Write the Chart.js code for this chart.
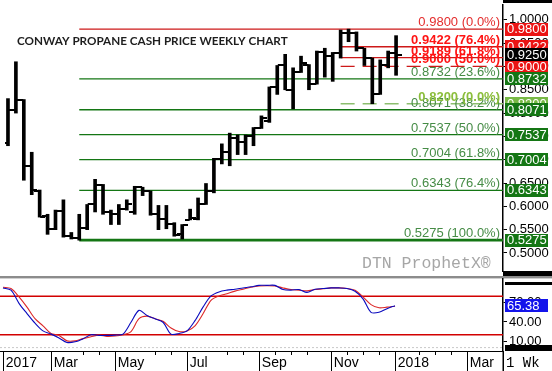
<!DOCTYPE html>
<html>
<head>
<meta charset="utf-8">
<script src="https://cdn.jsdelivr.net/npm/chart.js@4.4.1/dist/chart.umd.min.js"></script>
<style>
  html, body { margin: 0; padding: 0; background: #fff; }
  #wrap { position: relative; width: 552px; height: 371px; overflow: hidden; }
  #cPrice { position: absolute; left: 0; top: 0; }
  #cStoch { position: absolute; left: 0; top: 276px; }
</style>
</head>
<body>
<div id="wrap">
  <canvas id="cPrice" width="552" height="276"></canvas>
  <canvas id="cStoch" width="552" height="95"></canvas>
</div>
<script>
// weekly bars, week starting Monday
const weeks = ['2017-01-23','2017-01-30','2017-02-06','2017-02-13','2017-02-20','2017-02-27',
  '2017-03-06','2017-03-13','2017-03-20','2017-03-27','2017-04-03','2017-04-10','2017-04-17','2017-04-24',
  '2017-05-01','2017-05-08','2017-05-15','2017-05-22','2017-05-29','2017-06-05','2017-06-12','2017-06-19','2017-06-26',
  '2017-07-03','2017-07-10','2017-07-17','2017-07-24','2017-07-31','2017-08-07','2017-08-14','2017-08-21','2017-08-28',
  '2017-09-04','2017-09-11','2017-09-18','2017-09-25','2017-10-02','2017-10-09','2017-10-16','2017-10-23','2017-10-30',
  '2017-11-06','2017-11-13','2017-11-20','2017-11-27','2017-12-04','2017-12-11','2017-12-18','2017-12-25','2018-01-01'];

const priceOpen = [0.735,0.806,0.829,0.687,0.633,0.579,0.552,0.590,0.536,0.532,0.554,0.604,0.645,0.588,0.583,0.594,0.588,
  0.641,0.633,0.583,0.573,0.563,0.540,0.571,0.573,0.604,0.633,0.701,0.716,0.747,0.738,0.751,0.767,0.784,0.856,0.902,0.850,
  0.889,0.904,0.862,0.930,0.922,0.928,0.972,0.972,0.939,0.918,0.840,0.902,0.928];
const priceHigh = [0.831,0.910,0.829,0.716,0.635,0.583,0.592,0.614,0.544,0.583,0.604,0.658,0.647,0.592,0.604,0.614,0.643,
  0.641,0.633,0.602,0.602,0.565,0.561,0.594,0.618,0.649,0.703,0.734,0.757,0.753,0.753,0.769,0.794,0.856,0.902,0.926,0.897,
  0.922,0.904,0.933,0.939,0.930,0.978,0.980,0.974,0.939,0.918,0.914,0.933,0.966];
const priceLow = [0.730,0.800,0.656,0.625,0.577,0.540,0.550,0.534,0.530,0.5275,0.550,0.588,0.583,0.561,0.561,0.592,0.583,
  0.623,0.581,0.550,0.552,0.536,0.530,0.571,0.571,0.604,0.629,0.691,0.687,0.711,0.711,0.730,0.767,0.780,0.840,0.850,0.809,
  0.887,0.850,0.862,0.877,0.868,0.918,0.953,0.933,0.902,0.820,0.840,0.897,0.881];
const priceClose = [0.806,0.829,0.687,0.635,0.578,0.552,0.590,0.536,0.532,0.554,0.604,0.645,0.588,0.583,0.594,0.604,0.641,
  0.633,0.583,0.573,0.563,0.538,0.559,0.575,0.604,0.633,0.701,0.716,0.747,0.738,0.751,0.769,0.790,0.856,0.902,0.850,0.889,
  0.908,0.862,0.930,0.922,0.928,0.972,0.972,0.939,0.918,0.840,0.902,0.928,0.925];

const stochK = [93,89.5,69,53,38,26,21,15,8,9,13.7,20,19,19,19.5,21,39.4,58,50,44.8,39.5,21,22,26,42,63,80.5,86.8,89.5,91,
  93,94.7,97,97,97,90.5,89.5,90.5,86,91,92,93,93,92,87.8,76,55,55,60.6,65.38];
const stochD = [94,92,79,63,45,34,22,19,10.5,10.5,14,17,19.5,17.5,18,20,25,45,49,45,41,30.5,25,26,34,52.7,73.7,80.5,84,88,
  91,94,96,96.5,96,93,90.5,89.5,88.4,90.5,91.6,93,93,92,89.5,79,67,62,63,64.5];

// retracement 0.9800 high -> 0.5275 low
const mainFibLevels = [0.98, 0.8732, 0.8071, 0.7537, 0.7004, 0.6343, 0.5275];
const mainFibPct = [0.0, 23.6, 38.2, 50.0, 61.8, 76.4, 100.0];
// retracement 0.8200 low -> 0.9800 high
const subFibLevels = [0.9422, 0.9189, 0.9000, 0.8200];
const subFibPct = [76.4, 61.8, 50.0, 0.0];
const mainFibFromWeek = 9;
const subFibFromWeek = 42;

const priceTicks = [0.50,0.55,0.60,0.65,0.70,0.75,0.80,0.85,0.90,0.95,1.00];
const stochTicks = [10, 40, 70];
const stochBands = [20, 80];
const monthTickWeeks = [0, 6, 14, 23, 32, 41, 49, 58];
const monthLabels = ['2017','Mar','May','Jul','Sep','Nov','2018','Mar'];
const minorTickWeeks = [10, 12, 19, 21, 28, 30, 34, 36, 38, 43, 45, 47, 52, 54, 56];

const FONT = "'Liberation Sans Narrow','Arial Narrow','Liberation Sans',Arial,sans-serif";
const RED = 'rgb(205,25,25)';
const RED_TXT = 'rgb(228,45,45)';
const RED_BOLD = 'rgb(255,20,20)';
const GREEN = 'rgb(20,118,20)';
const GREEN_TXT = 'rgb(70,140,70)';
const LIGHT_GREEN = 'rgb(140,190,110)';
const LIGHT_GREEN_TXT = 'rgb(140,190,60)';
const xMin = -0.375, xMax = 62.5;

function tickImg(side) {
  const c = document.createElement('canvas');
  c.width = 11; c.height = 2;
  const g = c.getContext('2d');
  g.fillStyle = '#000';
  g.fillRect(side === 'left' ? 0 : 6, 0, 5, 2);
  return c;
}

function fibLine(v, from, color, width, dash) {
  return {
    type: 'line', data: [{x: from, y: v}, {x: xMax, y: v}],
    borderColor: color, borderWidth: width, borderDash: dash || [],
    pointRadius: 0, order: 3
  };
}

const fibSets = [];
mainFibLevels.forEach((v, i) => {
  const p = mainFibPct[i];
  fibSets.push(fibLine(v, mainFibFromWeek, p === 0 ? RED : GREEN, p === 100 ? 2.6 : 1.3));
});
subFibLevels.forEach((v, i) => {
  const p = subFibPct[i];
  if (p === 0) fibSets.push(fibLine(v, subFibFromWeek, LIGHT_GREEN, 1.3, [14, 8]));
  else fibSets.push(fibLine(v, subFibFromWeek, RED, 1.3, p === 50 ? [14, 8] : []));
});

function box(ctx, y, color, text) {
  ctx.fillStyle = color;
  ctx.fillRect(505, Math.round(y - 6.5), 43, 13);
  ctx.fillStyle = '#fff';
  ctx.font = '13px ' + FONT;
  ctx.textAlign = 'left';
  ctx.textBaseline = 'middle';
  ctx.fillText(text, 507, y + 0.5);
}

const pricePlugin = {
  id: 'priceExtras',
  afterDraw(chart) {
    const ctx = chart.ctx, y = chart.scales.y;
    ctx.save();
    // fib labels
    ctx.textAlign = 'right';
    ctx.textBaseline = 'alphabetic';
    mainFibLevels.forEach((v, i) => {
      const p = mainFibPct[i];
      ctx.font = '13px ' + FONT;
      ctx.fillStyle = p === 0 ? RED_TXT : GREEN_TXT;
      ctx.fillText(v.toFixed(4) + ' (' + p.toFixed(1) + '%)', 500, y.getPixelForValue(v) - 3);
    });
    subFibLevels.forEach((v, i) => {
      const p = subFibPct[i];
      ctx.font = 'bold 13px ' + FONT;
      ctx.fillStyle = p === 0 ? LIGHT_GREEN_TXT : RED_BOLD;
      ctx.fillText(v.toFixed(4) + ' (' + p.toFixed(1) + '%)', 500, y.getPixelForValue(v) - 3);
    });
    // title and watermark
    ctx.textAlign = 'left';
    ctx.fillStyle = '#1e1e1e';
    ctx.font = 'bold 11.7px Lato';
    ctx.fillText('CONWAY PROPANE CASH PRICE WEEKLY CHART', 17, 45);
    ctx.fillStyle = '#a6a6a6';
    ctx.font = "16.5px 'Liberation Mono'";
    ctx.fillText('DTN ProphetX\u00AE', 362, 268);
    // axis boxes
    const levels = [];
    mainFibLevels.forEach((v, i) => levels.push({v, c: mainFibPct[i] === 0 ? 'rgb(235,20,20)' : GREEN}));
    subFibLevels.forEach((v, i) => levels.push({v, c: subFibPct[i] === 0 ? 'rgb(120,185,70)' : 'rgb(235,20,20)'}));
    levels.sort((a, b) => b.v - a.v);
    levels.forEach(l => box(ctx, y.getPixelForValue(l.v), l.c, l.v.toFixed(4)));
    const last = priceClose[priceClose.length - 1];
    box(ctx, y.getPixelForValue(last), '#000', last.toFixed(4));
    // frame pieces of the right strip
    ctx.fillStyle = '#000';
    ctx.fillRect(503, 0, 49, 3);
    ctx.fillRect(503, 271, 49, 5);
    ctx.restore();
  }
};

new Chart(document.getElementById('cPrice'), {
  type: 'bar',
  data: {
    datasets: [
      ...fibSets,
      {
        type: 'bar', data: weeks.map((w, i) => ({x: i, y: [priceLow[i], priceHigh[i]]})),
        backgroundColor: '#000', barThickness: 3, order: 0
      },
      {
        type: 'line', data: weeks.map((w, i) => ({x: i, y: priceOpen[i]})), showLine: false,
        pointStyle: tickImg('left'), pointRadius: 3, order: 0
      },
      {
        type: 'line', data: weeks.map((w, i) => ({x: i, y: priceClose[i]})), showLine: false,
        pointStyle: tickImg('right'), pointRadius: 3, order: 0
      }
    ]
  },
  options: {
    responsive: false, animation: false, events: [],
    layout: {padding: 0},
    plugins: {legend: {display: false}, tooltip: {enabled: false}},
    scales: {
      x: {type: 'linear', min: xMin, max: xMax, display: false, offset: false},
      y: {
        position: 'right', min: 0.4614, max: 1.0317,
        afterBuildTicks: s => { s.ticks = priceTicks.map(v => ({value: v})); },
        afterFit: s => { s.width = 49; s.paddingTop = 0; s.paddingBottom = 0; },
        border: {display: true, color: '#000', width: 1.5},
        grid: {drawOnChartArea: false, drawTicks: true, tickLength: 4, color: '#000'},
        ticks: {color: '#000', font: {family: FONT, size: 13}, padding: 2, callback: v => v.toFixed(4)}
      }
    }
  },
  plugins: [pricePlugin]
});

const stochPlugin = {
  id: 'stochExtras',
  beforeDraw(chart) {
    const ctx = chart.ctx;
    ctx.save();
    ctx.fillStyle = '#8c8c8c';
    ctx.fillRect(0, 0, 552, 2);
    ctx.fillStyle = '#d0d0d0';
    ctx.fillRect(0, 2, 552, 1);
    ctx.restore();
  },
  afterDraw(chart) {
    const ctx = chart.ctx, x = chart.scales.x, y = chart.scales.y;
    const bottom = chart.chartArea.bottom;
    ctx.save();
    ctx.fillStyle = '#000';
    ctx.fillRect(505, 6, 47, 3);
    ctx.fillRect(505, bottom - 6, 47, 6);
    ctx.fillRect(502.5, bottom, 1.5, 95 - bottom);
    ctx.strokeStyle = '#000';
    ctx.lineWidth = 1;
    minorTickWeeks.forEach(w => {
      const px = Math.round(x.getPixelForValue(w)) + 0.5;
      ctx.beginPath(); ctx.moveTo(px, bottom); ctx.lineTo(px, bottom + 4); ctx.stroke();
    });
    const last = stochK[stochK.length - 1];
    const py = y.getPixelForValue(last);
    ctx.fillStyle = 'rgb(20,20,235)';
    ctx.fillRect(505, Math.round(py - 6.5), 43, 13);
    ctx.fillStyle = '#fff';
    ctx.font = '13px ' + FONT;
    ctx.textBaseline = 'middle';
    ctx.fillText(last.toFixed(2), 507, py + 0.5);
    ctx.fillStyle = '#000';
    ctx.font = "14px 'Liberation Mono'";
    ctx.textBaseline = 'alphabetic';
    ctx.fillText('1 Wk', 506, bottom + 16);
    ctx.restore();
  }
};

new Chart(document.getElementById('cStoch'), {
  type: 'line',
  data: {
    datasets: [
      {data: [{x: xMin, y: 0}, {x: xMax, y: 0}], borderColor: '#c8c8c8', borderWidth: 1, borderDash: [2, 2], pointRadius: 0, order: 3},
      ...stochBands.map(b => ({data: [{x: xMin, y: b}, {x: xMax, y: b}], borderColor: 'rgb(210,0,0)', borderWidth: 1.3, pointRadius: 0, order: 3})),
      {data: weeks.map((w, i) => ({x: i, y: stochD[i]})), borderColor: 'rgb(220,40,40)', borderWidth: 1.1, pointRadius: 0, tension: 0.3, order: 1},
      {data: weeks.map((w, i) => ({x: i, y: stochK[i]})), borderColor: 'rgb(10,10,190)', borderWidth: 1.1, pointRadius: 0, tension: 0.3, order: 0}
    ]
  },
  options: {
    responsive: false, animation: false, events: [],
    layout: {padding: {top: 3}},
    plugins: {legend: {display: false}, tooltip: {enabled: false}},
    scales: {
      x: {
        type: 'linear', min: xMin, max: xMax, offset: false,
        afterBuildTicks: s => { s.ticks = monthTickWeeks.map(v => ({value: v})); },
        afterFit: s => { s.height = 20; s.paddingLeft = 0; s.paddingRight = 0; },
        border: {display: true, color: '#000', width: 1},
        grid: {drawOnChartArea: false, drawTicks: true, tickLength: 20, color: '#000'},
        ticks: {
          color: '#000', font: {family: FONT, size: 14}, padding: -16, align: 'start', maxRotation: 0,
          autoSkip: false, callback: (v, i) => '\u2009' + monthLabels[i]
        }
      },
      y: {
        position: 'right', min: -5.3, max: 106.9,
        afterBuildTicks: s => { s.ticks = stochTicks.map(v => ({value: v})); },
        afterFit: s => { s.width = 49; s.paddingTop = 0; s.paddingBottom = 0; },
        border: {display: true, color: '#000', width: 1.5},
        grid: {drawOnChartArea: false, drawTicks: true, tickLength: 4, color: '#000'},
        ticks: {color: '#000', font: {family: FONT, size: 13}, padding: 2, callback: v => v.toFixed(2)}
      }
    }
  },
  plugins: [stochPlugin]
});
</script>
</body>
</html>
